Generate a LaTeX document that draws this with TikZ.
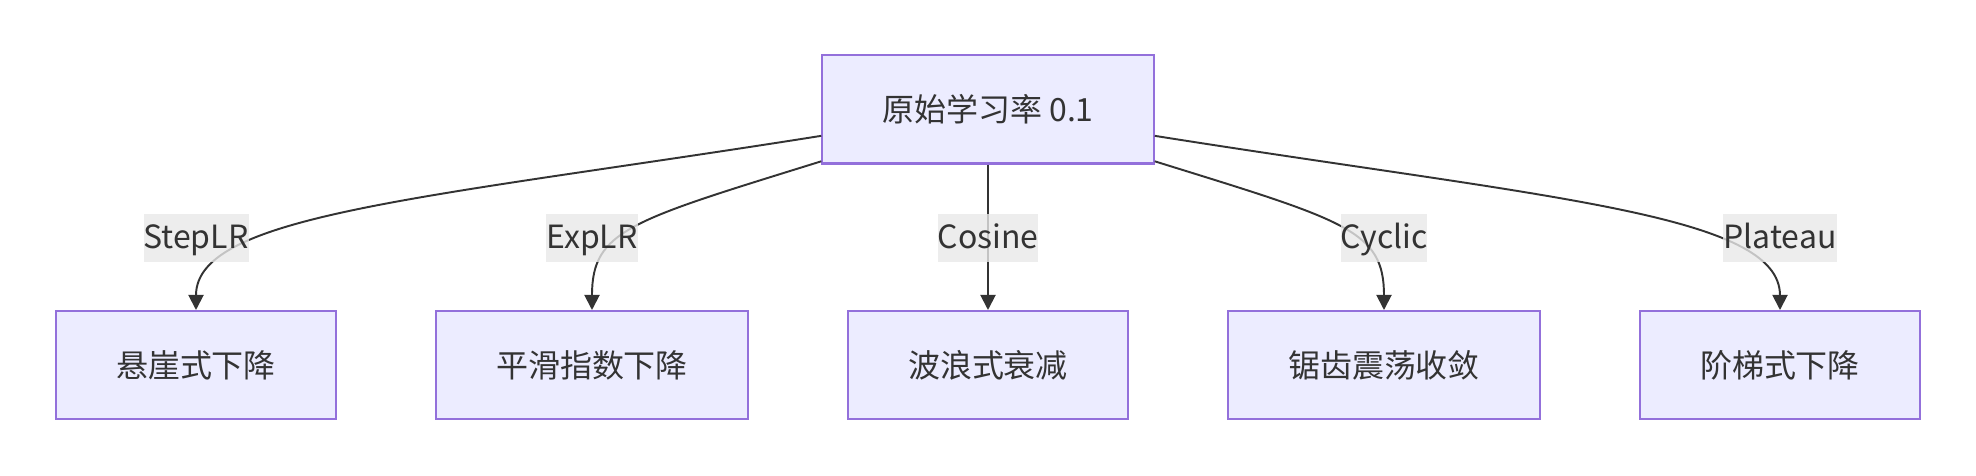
\documentclass[tikz,border=0pt]{standalone}
\usepackage{fontspec}
\setmainfont{Noto Sans CJK SC}
\usetikzlibrary{arrows.meta}
\definecolor{boxfill}{HTML}{ECECFF}
\definecolor{boxline}{HTML}{9370DB}
\definecolor{ink}{HTML}{333333}
\definecolor{lblbg}{HTML}{E8E8E8}

\begin{document}
\begin{tikzpicture}[
  every node/.style={font=\fontsize{9.1}{11}\selectfont,text=ink},
  lr/.style={rectangle,draw=boxline,fill=boxfill,line width=0.57pt,minimum height=1.08cm,inner xsep=0.6cm},
  lbl/.style={fill=lblbg,fill opacity=0.8,text opacity=1,text height=1.6ex,text depth=0.5ex,minimum height=0.48cm,inner xsep=0pt,inner ysep=0pt},
  edge/.style={draw=ink,line width=0.55pt,-{Triangle[length=1.5mm,width=1.5mm]}}
]
\useasboundingbox (0,0) rectangle (19.76,4.76);
\node[lr] (lr0) at (9.88,3.665) {原始学习率 0.1};
\node[lr] (step) at (1.96,1.11) {悬崖式下降};
\node[lr] (expo) at (5.92,1.11) {平滑指数下降};
\node[lr] (cosi) at (9.88,1.11) {波浪式衰减};
\node[lr] (cycl) at (13.84,1.11) {锯齿震荡收敛};
\node[lr] (plat) at (17.80,1.11) {阶梯式下降};
\draw[edge] (lr0) to[out=189,in=90,out distance=4cm,in distance=0.96cm] (step);
\draw[edge] (lr0) to[out=197.5,in=90,out distance=2cm,in distance=0.8cm] (expo);
\draw[edge] (lr0) -- (cosi);
\draw[edge] (lr0) to[out=-17.5,in=90,out distance=2cm,in distance=0.8cm] (cycl);
\draw[edge] (lr0) to[out=-9,in=90,out distance=4cm,in distance=0.96cm] (plat);
\node[lbl] (l1) at (1.96,2.38) {StepLR};
\node[lbl] (l2) at (5.92,2.38) {ExpLR};
\node[lbl] (l3) at (9.88,2.38) {Cosine};
\node[lbl] (l4) at (13.84,2.38) {Cyclic};
\node[lbl] (l5) at (17.80,2.38) {Plateau};
\end{tikzpicture}
\end{document}
